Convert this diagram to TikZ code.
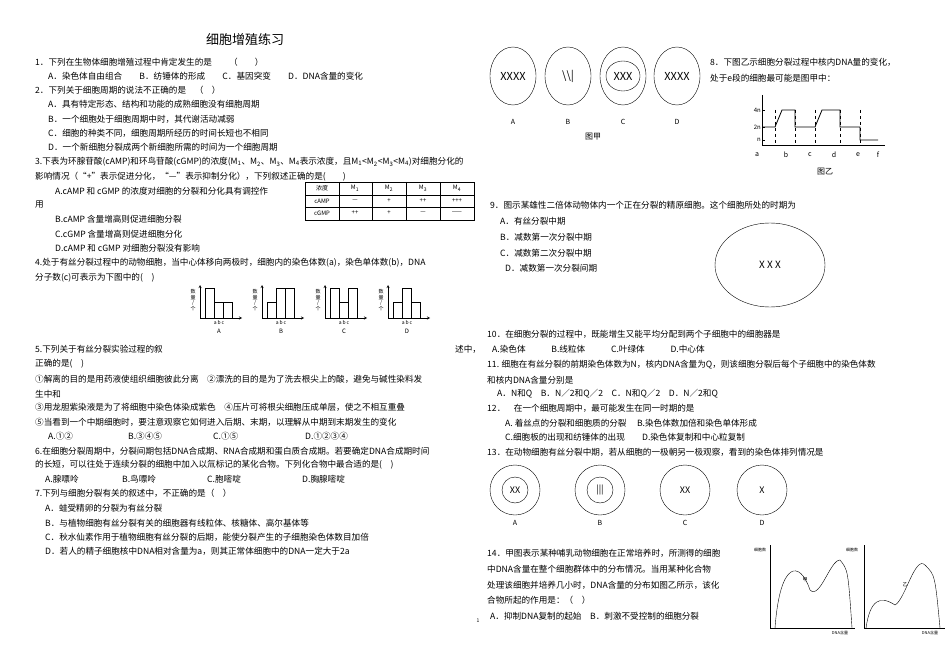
\documentclass[tikz,border=0pt]{standalone}
\usepackage{fontspec}
\setmainfont{Noto Sans CJK SC}
\newcommand{\fz}{\fontsize{8.6}{10}\selectfont}
\begin{document}
\begin{tikzpicture}[x=1pt,y=-1pt,
 t/.style={anchor=west,inner sep=0,font=\fz},
 sm/.style={inner sep=0,font=\fontsize{6}{7}\selectfont},
 cell/.style={draw,thin},
 bar/.style={draw,thin}]
\useasboundingbox (0,0) rectangle (950,671);
\node[inner sep=0,font=\fontsize{13}{14}\selectfont] (title) at (245,40) {细胞增殖练习};
% left column
\node[t] (q1) at (35,62) {1．下列在生物体细胞增殖过程中肯定发生的是　　（　　）};
\node[t] at (48,76) {A．染色体自由组合　　B．纺锤体的形成　　C．基因突变　　D．DNA含量的变化};
\node[t] at (35,90) {2．下列关于细胞周期的说法不正确的是　（　）};
\node[t] at (48,104) {A．具有特定形态、结构和功能的成熟细胞没有细胞周期};
\node[t] at (48,119) {B．一个细胞处于细胞周期中时，其代谢活动减弱};
\node[t] at (48,133) {C．细胞的种类不同，细胞周期所经历的时间长短也不相同};
\node[t] at (48,147) {D．一个新细胞分裂成两个新细胞所需的时间为一个细胞周期};
\node[t] at (35,162) {3.下表为环腺苷酸(cAMP)和环鸟苷酸(cGMP)的浓度(M\textsubscript{1}、M\textsubscript{2}、M\textsubscript{3}、M\textsubscript{4}表示浓度，且M\textsubscript{1}<M\textsubscript{2}<M\textsubscript{3}<M\textsubscript{4})对细胞分化的};
\node[t] at (35,177) {影响情况（“+”表示促进分化，“—”表示抑制分化），下列叙述正确的是(　　)};
\node[t] at (55,191) {A.cAMP 和 cGMP 的浓度对细胞的分裂和分化具有调控作};
\node[t] at (35,205) {用};
\node[t] at (55,219) {B.cAMP 含量增高则促进细胞分裂};
\node[t] at (55,234) {C.cGMP 含量增高则促进细胞分化};
\node[t] at (55,248) {D.cAMP 和 cGMP 对细胞分裂没有影响};
% table
\draw[thick] (305,182) rectangle (474,220);
\draw (305,195)--(474,195) (305,207)--(474,207);
\foreach \x in {339,372,406,440} \draw (\x,182)--(\x,220);
\foreach \x/\s in {322/浓度,355/M\textsubscript{1},389/M\textsubscript{2},423/M\textsubscript{3},457/M\textsubscript{4}} \node[sm] at (\x,188.5) {\s};
\node[sm] at (322,201) {cAMP}; \node[sm] at (322,213) {cGMP};
\node[sm] at (355,201) {—}; \node[sm] at (389,201) {+}; \node[sm] at (423,201) {++}; \node[sm] at (457,201) {+++};
\node[sm] at (355,213) {++}; \node[sm] at (389,213) {+}; \node[sm] at (423,213) {—}; \node[sm] at (457,213) {——};
\node[t] at (35,263) {4.处于有丝分裂过程中的动物细胞，当中心体移向两极时，细胞内的染色体数(a)，染色单体数(b)，DNA};
\node[t] at (35,278) {分子数(c)可表示为下图中的(　)};
% bar charts
\foreach \ox/\L/\ha/\hb/\hc in {200/A/30/16/16, 262/B/16/30/30, 325/C/30/16/30, 388/D/16/30/16}{
  \draw[->,>=stealth] (\ox,318)--(\ox+42,318);
  \draw[->,>=stealth] (\ox,318)--(\ox,285);
  \draw[bar] (\ox+5,318) rectangle (\ox+14,318-\ha);
  \draw[bar] (\ox+14,318) rectangle (\ox+23,318-\hb);
  \draw[bar] (\ox+23,318) rectangle (\ox+32,318-\hc);
  \node[sm,align=center,font=\fontsize{5}{5.5}\selectfont] at (\ox-7,300) {数\\量\\/\\个};
  \node[sm,font=\fontsize{5}{5}\selectfont\itshape] at (\ox+19,323) {a\,b\,c};
  \node[sm] at (\ox+19,331) {\L};
}
\node[t] at (35,349) {5.下列关于有丝分裂实验过程的叙};
\node[t] at (455,349) {述中，};
\node[t] at (35,364) {正确的是(　)};
\node[t] at (35,379) {①解离的目的是用药液使组织细胞彼此分离　②漂洗的目的是为了洗去根尖上的酸，避免与碱性染料发};
\node[t] at (35,394) {生中和};
\node[t] at (35,407) {③用龙胆紫染液是为了将细胞中染色体染成紫色　④压片可将根尖细胞压成单层，使之不相互重叠};
\node[t] at (35,422) {⑤当看到一个中期细胞时，要注意观察它如何进入后期、末期，以理解从中期到末期发生的变化};
\node[t] at (48,436) {A.①②};
\node[t] at (128,436) {B.③④⑤};
\node[t] at (213,436) {C.①⑤};
\node[t] at (305,436) {D.①②③④};
\node[t] at (35,451) {6.在细胞分裂周期中，分裂间期包括DNA合成期、RNA合成期和蛋白质合成期。若要确定DNA合成期时间};
\node[t] at (35,465) {的长短，可以往处于连续分裂的细胞中加入以氚标记的某化合物。下列化合物中最合适的是(　)};
\node[t] at (45,479) {A.腺嘌呤};
\node[t] at (122,479) {B.鸟嘌呤};
\node[t] at (207,479) {C.胞嘧啶};
\node[t] at (302,479) {D.胸腺嘧啶};
\node[t] at (35,493) {7.下列与细胞分裂有关的叙述中，不正确的是（　）};
\node[t] at (45,508) {A．蛙受精卵的分裂为有丝分裂};
\node[t] at (45,523) {B．与植物细胞有丝分裂有关的细胞器有线粒体、核糖体、高尔基体等};
\node[t] at (45,537) {C．秋水仙素作用于植物细胞有丝分裂的后期，能使分裂产生的子细胞染色体数目加倍};
\node[t] at (45,551) {D．若人的精子细胞核中DNA相对含量为a，则其正常体细胞中的DNA一定大于2a};
% right column: figure jia
\foreach \x/\L/\s in {513/A/XXXX,568/B/\textbackslash\textbackslash |//,623/C/XXX,677/D/XXXX}{
  \draw[cell] (\x,76) ellipse (23 and 29);
  \node[inner sep=0,font=\fontsize{11}{11}\selectfont\itshape] at (\x,76) {\s};
  \node[inner sep=0,font=\fontsize{7}{7}\selectfont] at (\x,122) {\L};
}
\draw (623,76) ellipse (17 and 15);
\node[inner sep=0,font=\fontsize{8}{8}\selectfont] at (593,137) {图甲};
\node[t] at (710,62) {8．下图乙示细胞分裂过程中核内DNA量的变化，};
\node[t] at (710,78) {处于e段的细胞最可能是图甲中：};
% graph yi
\draw (762,95)--(762,145)--(885,145);
\foreach \y/\l in {110/4n,127/2n,140/n}{\draw (762,\y)--(765,\y); \node[inner sep=0,font=\fontsize{6}{6}\selectfont,anchor=east] at (761,\y) {\l};}
\draw[thick] (762,127)--(775,127)--(782,110)--(795,110)--(795,127)--(815,127)--(822,110)--(840,110)--(840,127)--(860,127)--(860,140)--(878,140);
\foreach \x in {775,795,815,840,860} \draw[dashed] (\x,110)--(\x,145);
\foreach \x/\l in {757/a,786/b,810/c,834/d,858/e,878/f} \node[inner sep=0,font=\fontsize{7}{7}\selectfont] at (\x,155) {\l};
\node[inner sep=0,font=\fontsize{8}{8}\selectfont] at (825,172) {图乙};
\node[t] at (490,205) {9．图示某雄性二倍体动物体内一个正在分裂的精原细胞。这个细胞所处的时期为};
\node[t] at (500,221) {A．有丝分裂中期};
\node[t] at (500,237) {B．减数第一次分裂中期};
\node[t] at (500,253) {C．减数第二次分裂中期};
\node[t] at (505,268) {D．减数第一次分裂间期};
\draw[cell] (770,265) ellipse (55 and 42);
\node[inner sep=0,font=\fontsize{10}{10}\selectfont\itshape] at (770,265) {X X X};
\node[t] at (487,334) {10．在细胞分裂的过程中，既能增生又能平均分配到两个子细胞中的细胞器是};
\node[t] at (492,349) {A.染色体　　　B.线粒体　　　C.叶绿体　　　D.中心体};
\node[t] at (487,365) {11. 细胞在有丝分裂的前期染色体数为N，核内DNA含量为Q，则该细胞分裂后每个子细胞中的染色体数};
\node[t] at (487,380) {和核内DNA含量分别是};
\node[t] at (497,394) {A．N和Q　B．N／2和Q／2　C．N和Q／2　D．N／2和Q};
\node[t] at (487,408) {12．　在一个细胞周期中，最可能发生在同一时期的是};
\node[t] at (505,423) {A. 着丝点的分裂和细胞质的分裂　 B.染色体数加倍和染色单体形成};
\node[t] at (505,437) {C.细胞板的出现和纺锤体的出现　　D.染色体复制和中心粒复制};
\node[t] at (487,452) {13．在动物细胞有丝分裂中期，若从细胞的一极朝另一极观察，看到的染色体排列情况是};
\foreach \x/\L in {515/A,600/B,685/C,762/D}{
  \draw[cell] (\x,490) circle (25);
  \node[inner sep=0,font=\fontsize{7}{7}\selectfont] at (\x,523) {\L};
}
\draw (515,490) circle (13); \draw (600,490) circle (13);
\node[inner sep=0,font=\fontsize{9}{9}\selectfont\itshape] at (515,490) {XX};
\node[inner sep=0,font=\fontsize{9}{9}\selectfont] at (600,490) {|||};
\node[inner sep=0,font=\fontsize{9}{9}\selectfont\itshape] at (685,490) {XX};
\node[inner sep=0,font=\fontsize{9}{9}\selectfont\itshape] at (762,490) {X};
\node[t] at (487,553) {14．甲图表示某种哺乳动物细胞在正常培养时，所测得的细胞};
\node[t] at (487,569) {中DNA含量在整个细胞群体中的分布情况。当用某种化合物};
\node[t] at (487,585) {处理该细胞并培养几小时，DNA含量的分布如图乙所示，该化};
\node[t] at (487,600) {合物所起的作用是：（　）};
\node[t] at (490,616) {A．抑制DNA复制的起始　B．刺激不受控制的细胞分裂};
% histograms
\draw (770,545)--(770,628)--(855,628);
\draw (775,628) .. controls (780,560) and (800,560) .. (810,590) .. controls (820,600) and (830,560) .. (840,560) .. controls (848,570) .. (852,628);
\node[inner sep=0,font=\fontsize{5}{5}\selectfont] at (805,580) {甲};
\draw (864,545)--(864,628)--(945,628);
\draw (866,628) .. controls (870,600) and (880,595) .. (895,605) .. controls (905,600) and (915,555) .. (925,565) .. controls (935,575) .. (940,628);
\node[inner sep=0,font=\fontsize{5}{5}\selectfont] at (905,585) {乙};
\node[inner sep=0,font=\fontsize{4}{4}\selectfont] at (760,550) {细胞数};
\node[inner sep=0,font=\fontsize{4}{4}\selectfont] at (852,550) {细胞数};
\node[inner sep=0,font=\fontsize{4}{4}\selectfont] at (840,633) {DNA含量};
\node[inner sep=0,font=\fontsize{4}{4}\selectfont] at (930,633) {DNA含量};
\node[inner sep=0,font=\fontsize{5}{5}\selectfont] (pg) at (478,621) {1};
\end{tikzpicture}
\end{document}
